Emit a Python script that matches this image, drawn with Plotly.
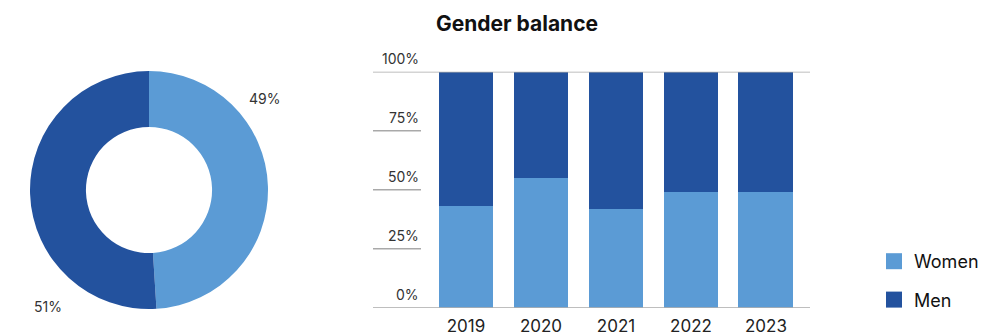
import plotly.graph_objects as go

# Overall split (donut)
donut_labels = ["Women", "Men"]
donut_values = [49, 51]

# Yearly split (stacked bars)
years = ["2019", "2020", "2021", "2022", "2023"]
women = [43, 55, 42, 49, 49]
men = [100 - w for w in women]

y_ticks = [0, 25, 50, 75, 100]
y_tick_labels = ["0%", "25%", "50%", "75%", "100%"]

LIGHT = "#5b9bd5"
DARK = "#23529e"
GRID = "#a9a9a9"
FONT = "Inter"
W, H = 1001, 336

fig = go.Figure()

# Donut on the left
fig.add_trace(go.Pie(
    labels=donut_labels, values=donut_values,
    marker=dict(colors=[LIGHT, DARK], line=dict(width=0)),
    hole=0.53, sort=False, direction="clockwise", rotation=0,
    textinfo="none", hoverinfo="label+percent", showlegend=False,
    domain=dict(x=[30 / W, 268 / W], y=[(H - 309) / H, (H - 71) / H]),
))

# Stacked bars
fig.add_trace(go.Bar(x=years, y=women, name="Women", marker_color=LIGHT,
                     marker_line_width=0, showlegend=False))
fig.add_trace(go.Bar(x=years, y=men, name="Men", marker_color=DARK,
                     marker_line_width=0, showlegend=False))

# Legend entries with larger square swatches
for name, col, grp in [("Women", LIGHT, "a"), ("Men", DARK, "b")]:
    fig.add_trace(go.Scatter(x=[None], y=[None], mode="markers", name=name,
                             legendgroup=grp,
                             marker=dict(symbol="square", size=16, color=col)))

x_lo, x_hi = -1.24, 4.587

shapes = []
annotations = []
for v, lab in zip(y_ticks, y_tick_labels):
    full = v in (0, 100)
    shapes.append(dict(type="line", xref="x", yref="y",
                       x0=x_lo, x1=(x_hi if full else -0.6), y0=v, y1=v,
                       line=dict(color=GRID, width=1.5), layer="above"))
    annotations.append(dict(xref="x", yref="y", x=-0.6, y=v, text=lab,
                            showarrow=False, xanchor="right", yanchor="bottom",
                            yshift=3, font=dict(family=FONT, size=14, color="#333")))

# Donut percentage labels
annotations.append(dict(xref="paper", yref="paper", x=264 / W, y=(H - 99) / H,
                        xanchor="center", yanchor="middle",
                        text=f"{donut_values[0]}%", showarrow=False,
                        font=dict(family=FONT, size=14, color="#333")))
annotations.append(dict(xref="paper", yref="paper", x=48 / W, y=(H - 306) / H,
                        xanchor="center", yanchor="middle",
                        text=f"{donut_values[1]}%", showarrow=False,
                        font=dict(family=FONT, size=14, color="#333")))

fig.update_layout(
    width=W, height=H,
    margin=dict(l=0, r=0, t=0, b=0),
    paper_bgcolor="white", plot_bgcolor="white",
    barmode="stack", bargap=0.267,
    title=dict(text="<b>Gender balance</b>", x=517 / W, xanchor="center",
               y=(H - 24) / H, yanchor="middle",
               font=dict(family=FONT, size=21, color="#111")),
    xaxis=dict(domain=[373 / W, 810 / W], range=[x_lo, x_hi],
               showgrid=False, zeroline=False, showline=False, ticks="",
               tickfont=dict(family=FONT, size=17, color="#222"),
               ticklabelstandoff=6),
    yaxis=dict(domain=[(H - 307.7) / H, (H - 71.7) / H], range=[0, 100],
               showgrid=False, zeroline=False, showline=False,
               showticklabels=False),
    legend=dict(x=874 / W, y=(H - 243) / H, xanchor="left", yanchor="top",
                font=dict(family=FONT, size=18, color="#111"),
                tracegroupgap=12, itemwidth=30, bgcolor="rgba(0,0,0,0)"),
    shapes=shapes, annotations=annotations,
    font=dict(family=FONT),
)

fig.write_html("out.html")
